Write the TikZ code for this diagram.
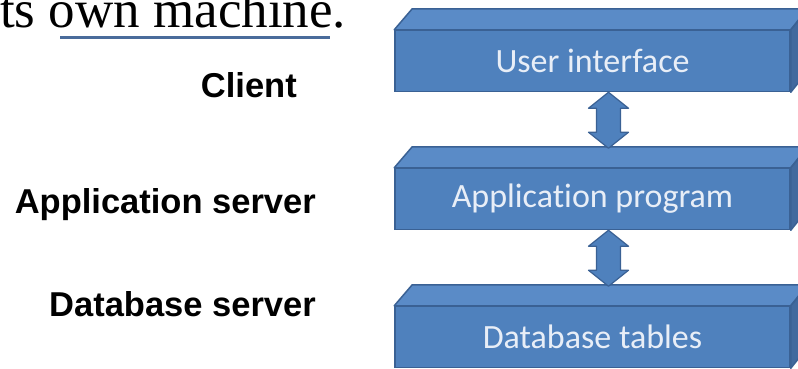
\documentclass[tikz,border=0pt]{standalone}
\usepackage{fontspec}
\setmainfont{Liberation Serif}
\newfontfamily\labelfont{Liberation Sans}
\newfontfamily\boxfont[Ligatures=NoCommon]{Carlito}
\usetikzlibrary{calc}
\definecolor{boxblue}{HTML}{4F81BD}
\definecolor{boxtop}{HTML}{5A8BC7}
\definecolor{boxside}{HTML}{41699E}
\definecolor{boxedge}{HTML}{3A6194}
\definecolor{boxtext}{HTML}{E8EEF7}
\definecolor{linkline}{HTML}{4A6C9B}

\begin{document}
\begin{tikzpicture}[x=1pt,y=-1pt,
		layer/.style={draw=boxedge, fill=boxblue, line width=1.5pt, minimum width=395pt, minimum height=61pt, inner sep=0pt, text=boxtext, font=\boxfont\fontsize{34}{40}\selectfont},
		topface/.style={draw=boxedge, fill=boxtop, line width=1.5pt, line join=round},
		sideface/.style={draw=boxedge, fill=boxside, line width=1.5pt, line join=round},
		updown/.style={draw=boxedge, fill=boxblue, line width=1.2pt, line join=round},
		tier/.style={anchor=base east, inner sep=0pt, font=\labelfont\bfseries\fontsize{34.5}{40}\selectfont}]
		\useasboundingbox (0,0) rectangle (798,368);
		\clip (0,0) rectangle (798,368);
		% caption line at the top
		\node[anchor=base west, inner sep=0pt, font=\fontsize{53}{60}\selectfont] (caption) at (0,27) {ts own machine.};
		\draw[linkline, line width=3pt] (60,37) -- (330,37);
		% tiers
		\node[tier] (client) at (297,97) {Client};
		\node[tier] (appserver) at (316,213) {Application server};
		\node[tier] (dbserver) at (316,316) {Database server};
		% layers
		\node[layer] (ui) at (592.5,61) {User interface};
		\draw[topface] (ui.north west) -- ++(18,-21) -- ++(395,0) -- (ui.north east) -- cycle;
		\draw[sideface] (ui.north east) -- ++(18,-21) -- ++(0,61) -- (ui.south east) -- cycle;
		\node[layer] (app) at (592.5,199) {Application program};
		\draw[topface] (app.north west) -- ++(18,-21) -- ++(395,0) -- (app.north east) -- cycle;
		\draw[sideface] (app.north east) -- ++(18,-21) -- ++(0,61) -- (app.south east) -- cycle;
		\node[layer] (db) at (592.5,337) {Database tables};
		\draw[topface] (db.north west) -- ++(18,-21) -- ++(395,0) -- (db.north east) -- cycle;
		\draw[sideface] (db.north east) -- ++(18,-21) -- ++(0,61) -- (db.south east) -- cycle;
		% two-way arrows
		\draw[updown] ($(ui.south)+(16,0)$) -- ++(20,16) -- ++(-8,0) -- ++(0,24) -- ++(8,0) -- ++(-20,16) -- ++(-20,-16) -- ++(8,0) -- ++(0,-24) -- ++(-8,0) -- cycle;
		\draw[updown] ($(app.south)+(16,0)$) -- ++(20,16) -- ++(-8,0) -- ++(0,24) -- ++(8,0) -- ++(-20,16) -- ++(-20,-16) -- ++(8,0) -- ++(0,-24) -- ++(-8,0) -- cycle;
	\end{tikzpicture}
\end{document}
